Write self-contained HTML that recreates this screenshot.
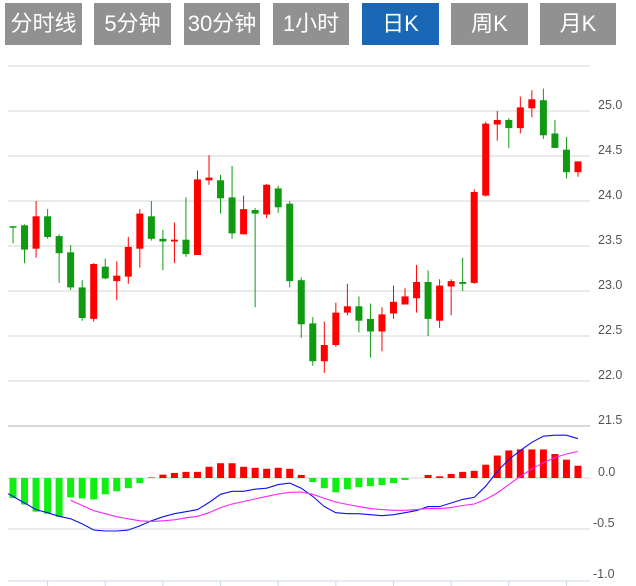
<!DOCTYPE html>
<html><head><meta charset="utf-8"><style>
body{margin:0;width:636px;height:586px;background:#fff;overflow:hidden;font-family:"Liberation Sans","Noto Sans CJK SC",sans-serif}
.tab{position:absolute;top:3px;height:42px;background:#919191;color:#fff;font-size:22px;line-height:42px;text-align:center}
.tab.on{background:#1a67b5}
svg{position:absolute;left:0;top:0}
</style></head><body>
<div class="tab" style="left:5px;width:77px">分时线</div>
<div class="tab" style="left:94px;width:77px">5分钟</div>
<div class="tab" style="left:184px;width:76px">30分钟</div>
<div class="tab" style="left:273px;width:76px">1小时</div>
<div class="tab on" style="left:362px;width:77px">日K</div>
<div class="tab" style="left:451px;width:77px">周K</div>
<div class="tab" style="left:540px;width:76px">月K</div>
<svg id="chart" width="636" height="586"></svg>
<script>
const opens=[23.72,23.73,23.47,23.83,23.61,23.43,23.04,22.69,23.27,23.11,23.16,23.47,23.83,23.58,23.55,23.57,23.40,24.23,24.23,24.04,23.63,23.90,23.85,24.14,23.97,23.12,22.64,22.22,22.40,22.76,22.83,22.69,22.55,22.75,22.85,22.92,23.10,22.67,23.05,23.10,23.09,24.06,24.85,24.90,24.81,25.03,25.12,24.75,24.57,24.32];
const closes=[23.71,23.46,23.83,23.60,23.42,23.04,22.70,23.30,23.14,23.17,23.49,23.86,23.58,23.55,23.57,23.41,24.24,24.26,24.03,23.64,23.91,23.86,24.18,23.93,23.11,22.63,22.22,22.40,22.76,22.83,22.67,22.55,22.74,22.88,22.94,23.10,22.69,23.06,23.11,23.08,24.10,24.86,24.90,24.81,25.04,25.13,24.73,24.59,24.32,24.44];
const highs=[23.72,23.74,24.00,23.91,23.63,23.51,23.12,23.31,23.36,23.33,23.60,23.91,24.00,23.68,23.76,24.04,24.34,24.51,24.29,24.39,24.06,23.92,24.19,24.17,24.00,23.15,22.71,22.66,22.87,23.08,22.94,22.86,22.82,23.06,23.03,23.29,23.23,23.13,23.13,23.37,24.13,24.88,25.00,24.92,25.16,25.23,25.25,24.90,24.71,24.44];
const lows=[23.53,23.31,23.37,23.58,23.09,23.01,22.67,22.66,23.13,22.90,23.08,23.26,23.56,23.23,23.31,23.38,23.40,24.18,23.86,23.58,23.63,22.82,23.81,23.87,23.04,22.48,22.17,22.09,22.38,22.73,22.54,22.26,22.33,22.69,22.85,22.76,22.50,22.59,22.73,23.00,23.08,24.05,24.67,24.59,24.75,24.93,24.69,24.59,24.25,24.27];
const hist=[-0.196,-0.26,-0.33,-0.35,-0.38,-0.19,-0.20,-0.21,-0.16,-0.13,-0.10,-0.05,0.005,0.033,0.05,0.06,0.06,0.11,0.145,0.145,0.11,0.10,0.09,0.10,0.09,0.03,-0.04,-0.10,-0.14,-0.11,-0.09,-0.08,-0.07,-0.05,-0.02,0,0.03,0.016,0.04,0.06,0.07,0.13,0.22,0.27,0.28,0.28,0.28,0.235,0.18,0.12];
const dif=[-0.18,-0.245,-0.31,-0.34,-0.375,-0.40,-0.45,-0.51,-0.52,-0.52,-0.51,-0.47,-0.42,-0.38,-0.35,-0.33,-0.31,-0.24,-0.16,-0.13,-0.13,-0.11,-0.10,-0.065,-0.05,-0.10,-0.18,-0.28,-0.34,-0.35,-0.35,-0.36,-0.37,-0.36,-0.34,-0.32,-0.28,-0.28,-0.245,-0.21,-0.19,-0.08,0.065,0.18,0.27,0.35,0.41,0.42,0.42,0.385];
const dea=[null,null,null,null,null,-0.22,-0.27,-0.32,-0.35,-0.38,-0.40,-0.42,-0.425,-0.42,-0.41,-0.39,-0.375,-0.34,-0.29,-0.255,-0.23,-0.205,-0.18,-0.157,-0.14,-0.137,-0.16,-0.20,-0.235,-0.26,-0.28,-0.30,-0.31,-0.317,-0.317,-0.31,-0.30,-0.30,-0.29,-0.27,-0.255,-0.21,-0.147,-0.065,0.016,0.09,0.15,0.20,0.235,0.26];
const priceTicks=[25.0,24.5,24.0,23.5,23.0,22.5,22.0,21.5];
const macdTicks=[0.0,-0.5,-1.0];

const NS='http://www.w3.org/2000/svg';
const svg=document.getElementById('chart');
const xAt=i=>13+i*11.53;
const yP=v=>111-(v-25)*90;
const yM=v=>478-v*102;
function mk(t,a){const e=document.createElementNS(NS,t);for(const k in a)e.setAttribute(k,a[k]);svg.appendChild(e);return e;}
for(const t of [25.5,...priceTicks]){
  const g=mk('line',{x1:8,x2:590,y1:yP(t),y2:yP(t),stroke:t==21.5?'#d8d8d8':'#dedede','stroke-width':t==21.5?2:1.3});
  
  
}
for(const t of priceTicks){
  const l=mk('text',{x:598,y:yP(t)-2,'font-size':12.5,fill:'#555'});l.textContent=t.toFixed(1);
  
  
}
for(const t of [0,-0.5]){
  const g=mk('line',{x1:8,x2:590,y1:yM(t),y2:yM(t),stroke:'#dedede','stroke-width':1.3});
  
  
}
for(const t of macdTicks){
  const l=mk('text',{x:t<0?593:598,y:yM(t)-2,'font-size':12.5,fill:'#555'});l.textContent=t.toFixed(1);
  
  
}
const ax=mk('line',{x1:8,x2:590,y1:581,y2:581,stroke:'#ccd6eb','stroke-width':1});


for(let i=3;i<50;i+=5){
  const tk=mk('line',{x1:xAt(i),x2:xAt(i),y1:581,y2:586,stroke:'#ccd6eb'});
  
  
}
for(let i=0;i<opens.length;i++){
  const up=closes[i]>=opens[i];const c=up?'#ff0000':'#0f9a12';
  const x=xAt(i);
  const w=mk('line',{x1:x,x2:x,y1:yP(highs[i]),y2:yP(lows[i]),stroke:c,'stroke-width':1});
  
  
  const top=yP(Math.max(opens[i],closes[i])),bot=yP(Math.min(opens[i],closes[i]));
  const b=mk('rect',{x:x-3.5,y:top,width:7,height:Math.max(1.5,bot-top),fill:c});
  
  
}
for(let i=0;i<hist.length;i++){
  const v=hist[i];if(v===0)continue;
  const y0=yM(0),y1=yM(v);
  const r=mk('rect',{x:xAt(i)-3.5,y:Math.min(y0,y1),width:7,height:Math.abs(y1-y0),fill:v>0?'#ff0000':'#11ee11'});
  
  
}
function line(arr,col,name){
  let d='';arr.forEach((v,i)=>{if(v===null)return;d+=(d?'L':'M')+xAt(i).toFixed(1)+','+yM(v).toFixed(1);});
  if(name==='dif-line')d='M8,'+yM(-0.154).toFixed(1)+'L'+d.slice(1);
  const p=mk('path',{d:d,fill:'none',stroke:col,'stroke-width':1.1});
  
  
}
line(dif,'#1010ee','dif-line');
line(dea,'#ff22ff','dea-line');
</script>
</body></html>
